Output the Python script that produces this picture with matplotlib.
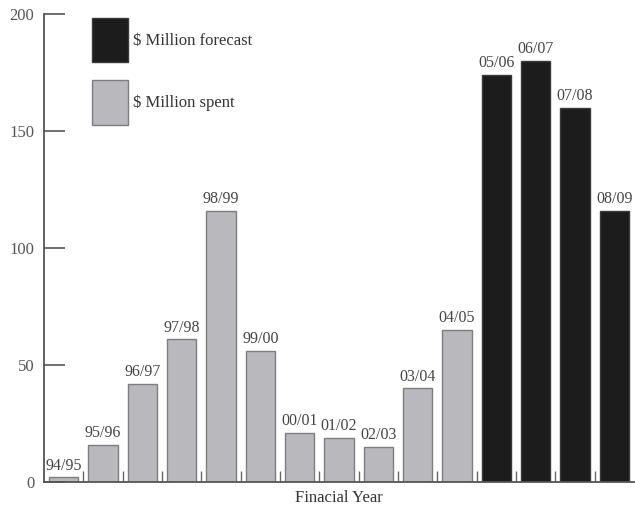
import matplotlib

matplotlib.use("Agg")
import matplotlib.pyplot as plt
from matplotlib.patches import Patch

years = ["94/95", "95/96", "96/97", "97/98", "98/99", "99/00", "00/01", "01/02",
         "02/03", "03/04", "04/05", "05/06", "06/07", "07/08", "08/09"]
spent = [2, 16, 42, 61, 116, 56, 21, 19, 15, 40, 65]
forecast = [174, 180, 160, 116]
y_ticks = [0, 50, 100, 150, 200]

GREY = "#b9b9bd"
GREY_EDGE = "#7d7d80"
BLACK = "#1c1c1c"

plt.rcParams["font.family"] = ["Liberation Serif", "DejaVu Serif"]

fig = plt.figure(figsize=(6.35, 5.07), dpi=100)
ax = fig.add_axes([44 / 635, 25 / 507, 590 / 635, 468 / 507])

values = spent + forecast
colours = [GREY] * len(spent) + [BLACK] * len(forecast)
edges = [GREY_EDGE] * len(spent) + ["#3a3a3a"] * len(forecast)
x = list(range(len(years)))
bars = ax.bar(x, values, width=0.75, color=colours, edgecolor=edges, linewidth=1.0)

for b, lab in zip(bars, years):
    ax.text(b.get_x() + b.get_width() / 2, b.get_height() + 1.5, lab,
            ha="center", va="bottom", fontsize=11.5, color="#444444")

ax.set_xlim(-0.5, len(years) - 0.5)
ax.set_ylim(0, 200)
ax.set_yticks(y_ticks)
ax.tick_params(axis="y", direction="in", length=15, width=1.2, colors="#555555",
               labelsize=12, pad=7)
ax.set_xticks([i + 0.5 for i in range(len(years) - 1)])
ax.set_xticklabels([])
ax.tick_params(axis="x", direction="in", length=8, width=1, colors="#666666")
ax.set_xlabel("Finacial Year", fontsize=12, color="#333333", labelpad=2)

for side in ("top", "right"):
    ax.spines[side].set_visible(False)
for side in ("left", "bottom"):
    ax.spines[side].set_color("#555555")
    ax.spines[side].set_linewidth(1.3)

handles = [Patch(facecolor=BLACK, edgecolor="#3a3a3a", label="$ Million forecast"),
           Patch(facecolor=GREY, edgecolor=GREY_EDGE, label="$ Million spent")]
ax.legend(handles=handles, loc="upper left", bbox_to_anchor=(48 / 590, 1 - 4 / 468),
          frameon=False, fontsize=12, handlelength=2.15, handleheight=3.7,
          labelspacing=1.1, handletextpad=0.3, borderpad=0, borderaxespad=0,
          labelcolor="#333333")

fig.savefig("out.png", dpi=100)
